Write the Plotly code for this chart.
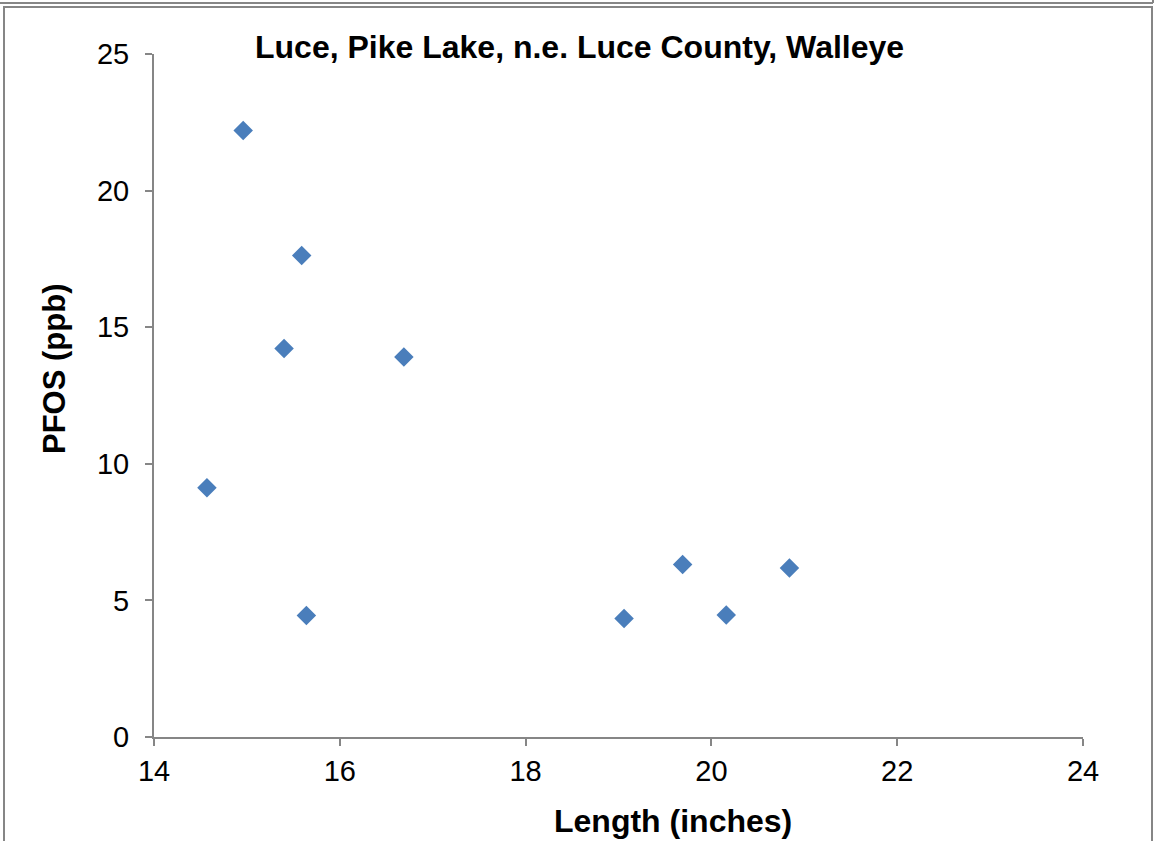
import plotly.graph_objects as go

length_in = [14.57, 14.96, 15.59, 15.40, 16.69, 15.64, 19.06, 19.69, 20.16, 20.84]
pfos_ppb = [9.12, 22.2, 17.62, 14.22, 13.91, 4.45, 4.34, 6.31, 4.47, 6.19]

x_ticks = [14, 16, 18, 20, 22, 24]
y_ticks = [0, 5, 10, 15, 20, 25]

W, H = 1156, 841
L, R, T, B = 154, 73, 54, 104
pw, ph = W - L - R, H - T - B

def px(x):
    return (x - L) / pw

def py(y):
    return (H - B - y) / ph

FONT = "Liberation Sans, Arial, sans-serif"

fig = go.Figure()
fig.add_trace(go.Scatter(
    x=length_in, y=pfos_ppb, mode="markers",
    marker=dict(symbol="diamond", size=15, color="#4A7EBB"),
    showlegend=False,
))

axis_common = dict(
    showline=True, linecolor="#868686", linewidth=2,
    ticks="outside", tickcolor="#868686", tickwidth=2, ticklen=7,
    showgrid=False, zeroline=False,
    tickfont=dict(family=FONT, size=29, color="black"),
)

fig.update_layout(
    width=W, height=H,
    margin=dict(l=L, r=R, t=T, b=B),
    paper_bgcolor="white", plot_bgcolor="white",
    xaxis=dict(range=[14, 24], tickvals=x_ticks, **axis_common),
    yaxis=dict(range=[0, 25], tickvals=y_ticks, ticklabelstandoff=10, **axis_common),
    shapes=[
        dict(type="line", xref="paper", yref="paper", x0=px(0), x1=px(1153), y0=py(3), y1=py(3),
             line=dict(color="#868686", width=2)),
        dict(type="line", xref="paper", yref="paper", x0=px(1153), x1=px(1153), y0=py(0), y1=py(3),
             line=dict(color="#868686", width=2)),
        dict(type="rect", xref="paper", yref="paper", x0=px(4), x1=px(1152), y0=py(860), y1=py(7),
             line=dict(color="#868686", width=2)),
    ],
    annotations=[
        dict(text="Luce, Pike Lake, n.e. Luce County, Walleye", xref="paper", yref="paper",
             x=px(579), y=py(47), xanchor="center", yanchor="middle", showarrow=False,
             font=dict(family=FONT, size=32, color="black", weight="bold")),
        dict(text="Length (inches)", xref="paper", yref="paper",
             x=px(673), y=py(821), xanchor="center", yanchor="middle", showarrow=False,
             font=dict(family=FONT, size=32, color="black", weight="bold")),
        dict(text="PFOS (ppb)", xref="paper", yref="paper", textangle=-90,
             x=px(54), y=py(369), xanchor="center", yanchor="middle", showarrow=False,
             font=dict(family=FONT, size=31, color="black", weight="bold")),
    ],
)

fig.write_html("out.html", config={"displayModeBar": False})
with open("out.html", "r", encoding="utf-8") as f:
    html = f.read()
html = html.replace("<body>", '<body style="margin:0;padding:0;overflow:hidden">', 1)
with open("out.html", "w", encoding="utf-8") as f:
    f.write(html)
